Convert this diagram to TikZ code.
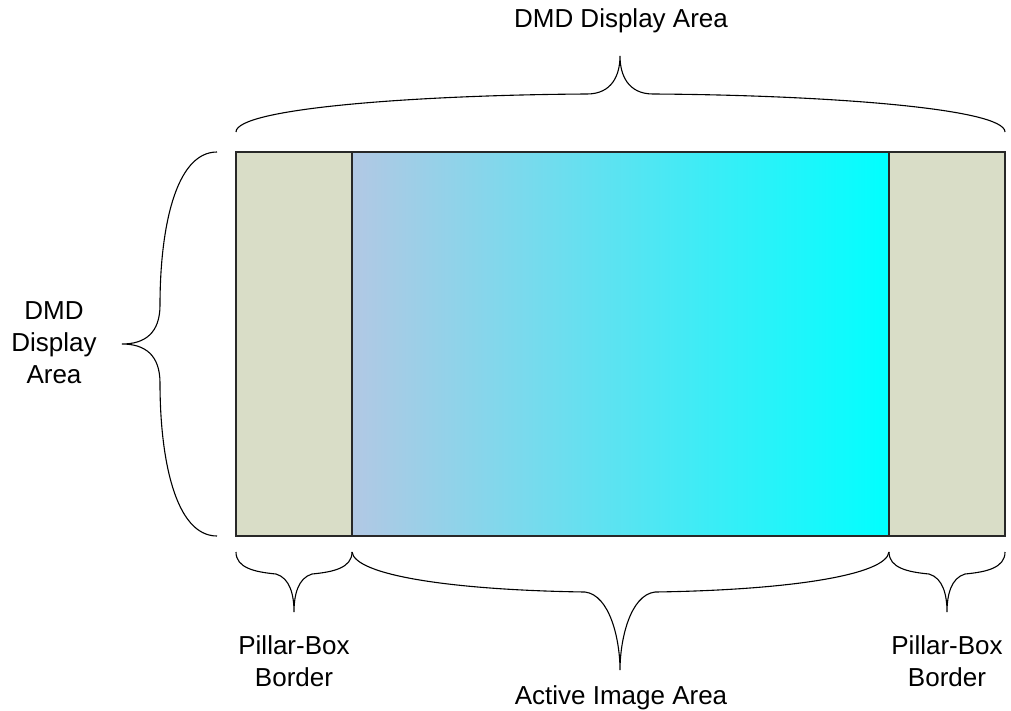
\documentclass[tikz,border=0pt]{standalone}
\usepackage{fontspec}
\setmainfont{Liberation Sans}
\definecolor{pillarfill}{RGB}{217,221,199}
\definecolor{activeleft}{RGB}{178,200,228}
\definecolor{framegray}{RGB}{40,40,40}
\begin{document}
\begin{tikzpicture}[x=1pt, y=-1pt,
    lbl/.style = {align=center, inner sep=0pt, font=\fontsize{26}{32}\selectfont},
    area/.style = {draw=framegray, line width=1.2pt, inner sep=0pt, minimum height=384pt},
    pillar/.style = {area, fill=pillarfill, minimum width=116pt},
    curly/.style = {line width=1.1pt}]
	\useasboundingbox (0,0) rectangle (1011,710);
	% display area
	\node[area, left color=activeleft, right color=cyan, minimum width=537pt] (active) at (620.5,344) {};
	\node[pillar] (lpillar) at (294,344) {};
	\node[pillar] (rpillar) at (947,344) {};
	
	% braces
	\draw[curly] (236,132) .. controls (236,108) and (420,95) .. (587,94)
		.. controls (612,94) and (620,75) .. (620,56)
		.. controls (620,75) and (628,94) .. (653,94)
		.. controls (820,95) and (1005,108) .. (1005,132);
	\draw[curly] (217,152) .. controls (175,152) and (160,230) .. (160,305)
		.. controls (160,333) and (145,344) .. (122,344)
		.. controls (145,344) and (160,355) .. (160,383)
		.. controls (160,458) and (175,536) .. (217,536);
	\foreach \dx in {0,653} {
		\draw[curly, xshift=\dx] (236,552) .. controls (236,568) and (255,572) .. (276,574)
			.. controls (290,578) and (294,595) .. (294,612)
			.. controls (294,595) and (298,578) .. (312,574)
			.. controls (333,572) and (352,568) .. (352,552);
	}
	\draw[curly] (352,552) .. controls (355,575) and (450,590) .. (585,592)
		.. controls (610,595) and (620,640) .. (620,670)
		.. controls (620,640) and (630,595) .. (655,592)
		.. controls (790,590) and (886,575) .. (889,552);
	
	% labels
	\node[lbl, anchor=base] (top) at (621,27) {DMD Display Area};
	\node[lbl] (side) at (54,343) {DMD\\Display\\Area};
	\node[lbl] (lborder) at (294,661) {Pillar-Box\\Border};
	\node[lbl] (rborder) at (947,661) {Pillar-Box\\Border};
	\node[lbl, anchor=base] (image) at (621,704) {Active Image Area};
\end{tikzpicture}
\end{document}
